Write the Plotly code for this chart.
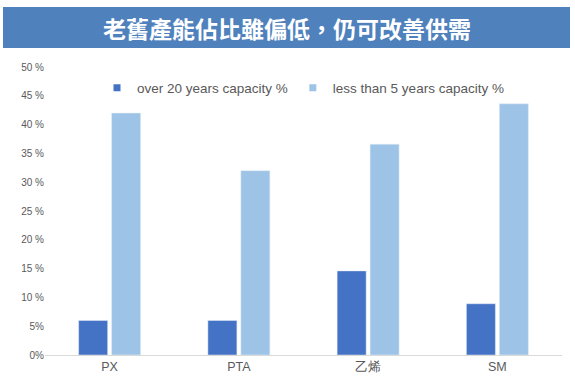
import plotly.graph_objects as go

categories = ["PX", "PTA", "乙烯", "SM"]
over20 = [6.0, 6.0, 14.6, 8.9]
less5 = [42.0, 32.0, 36.6, 43.6]
series_names = ["over 20 years capacity %", "less than 5 years capacity %"]
series_colors = ["#4472C4", "#9DC3E6"]
tick_vals = [0, 5, 10, 15, 20, 25, 30, 35, 40, 45, 50]
tick_text = ["0%", "5%", "10 %", "15 %", "20 %", "25 %", "30 %", "35 %", "40 %", "45 %", "50 %"]
title_text = "老舊產能佔比雖偏低，仍可改善供需"

L, R, T, B = 45, 13, 67, 31
W, H = 575, 386
PW, PH = W - L - R, H - T - B

def px_x(x):
    return (x - L) / PW

def px_y(y):
    return (H - B - y) / PH

fig = go.Figure()
for vals, name, col in zip([over20, less5], series_names, series_colors):
    fig.add_trace(go.Bar(x=categories, y=vals, name=name, marker_color=col, showlegend=False))
for name, col in zip(series_names, series_colors):
    fig.add_trace(go.Scatter(x=[None], y=[None], mode="markers", name=name,
                             marker=dict(symbol="square", size=7, color=col)))

fig.update_layout(
    width=W, height=H,
    margin=dict(l=L, r=R, t=T, b=B),
    paper_bgcolor="white", plot_bgcolor="white",
    barmode="group", bargap=0.49, bargroupgap=0.12,
    font=dict(family="Liberation Sans, Arial", color="#595959"),
    showlegend=True,
    legend=dict(orientation="h", x=px_x(97), y=px_y(88), xanchor="left", yanchor="middle",
                font=dict(size=13.5, color="#595959"), itemwidth=30, traceorder="normal",
                bgcolor="rgba(0,0,0,0)"),
)
fig.add_shape(type="rect", xref="paper", yref="paper",
              x0=px_x(3), x1=px_x(570), y0=px_y(48), y1=px_y(7),
              fillcolor="#4F81BD", line=dict(width=0))
fig.add_annotation(text=title_text, xref="paper", yref="paper",
                   x=px_x(287), y=px_y(28), xanchor="center", yanchor="middle", showarrow=False,
                   font=dict(size=23, color="white", family="Noto Sans CJK TC", weight=700))
fig.update_xaxes(showline=True, linecolor="#D9D9D9", linewidth=1, ticks="",
                 tickfont=dict(size=12.5, color="#595959"), showgrid=False)
fig.update_yaxes(range=[0, 50], tickvals=tick_vals, ticktext=tick_text, showgrid=False,
                 zeroline=False, tickfont=dict(size=10, color="#595959"), ticks="")
fig.write_html("out.html", config={"displayModeBar": False},
               post_script="document.body.style.margin='0';")
